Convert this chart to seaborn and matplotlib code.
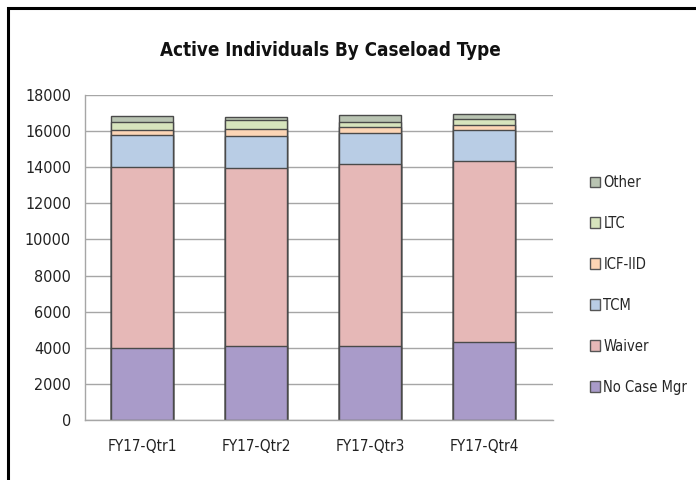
import matplotlib
matplotlib.use("Agg")
import matplotlib.pyplot as plt
import matplotlib.patches as mpatches
import numpy as np
import pandas as pd
import seaborn as sns

# ── Data ──────────────────────────────────────────────────────────────────────
QUARTERS = ["FY17-Qtr1", "FY17-Qtr2", "FY17-Qtr3", "FY17-Qtr4"]
CASELOAD_TYPES = ["No Case Mgr", "Waiver", "TCM", "ICF-IID", "LTC", "Other"]

no_case_mgr = [4000, 4080, 4120, 4330]
waiver      = [10000, 9870, 10080, 10020]
tcm         = [1780, 1790, 1700, 1700]
icf_iid     = [300, 400, 330, 280]
ltc         = [450, 460, 280, 360]
other       = [300, 190, 370, 240]

COLORS = {
    "No Case Mgr": "#A99BC9",
    "Waiver":      "#E6B8B7",
    "TCM":         "#B9CDE5",
    "ICF-IID":     "#FCD5B5",
    "LTC":         "#D7E4BD",
    "Other":       "#B9C4B2",
}

series = [no_case_mgr, waiver, tcm, icf_iid, ltc, other]
df = pd.DataFrame(series, index=CASELOAD_TYPES, columns=QUARTERS).T
cum = df.cumsum(axis=1)

# ── Plot ──────────────────────────────────────────────────────────────────────
sns.set_style("white")
plt.rcParams["font.family"] = ["DejaVu Sans"]
plt.rcParams["font.stretch"] = "condensed"

fig = plt.figure(figsize=(6.96, 4.8), dpi=100)
ax = fig.add_axes([0.122, 0.125, 0.672, 0.677])

# draw cumulative totals from the top layer down so each segment overlaps
for name in reversed(CASELOAD_TYPES):
    sns.barplot(
        x=QUARTERS, y=cum[name].values,
        color=COLORS[name], edgecolor="#4a4a4a", linewidth=1.0,
        width=0.54, saturation=1, ax=ax, zorder=2,
    )

ax.set_ylim(0, 18000)
ax.set_xlim(-0.5, 3.6)
ax.set_yticks(np.arange(0, 18001, 2000))
ax.yaxis.grid(True, color="#a6a6a6", linewidth=1.0, zorder=0)
ax.set_axisbelow(True)
ax.tick_params(axis="both", length=0, labelsize=11.5, colors="#222222", pad=10)
ax.tick_params(axis="x", labelsize=11, pad=14)
for side in ["top", "right"]:
    ax.spines[side].set_visible(False)
for side in ["left", "bottom"]:
    ax.spines[side].set_color("#a6a6a6")
    ax.spines[side].set_linewidth(1.0)

fig.text(0.475, 0.895, "Active Individuals By Caseload Type",
         ha="center", va="center", fontsize=13.5, fontweight="bold", color="#111111")

handles = [mpatches.Patch(facecolor=COLORS[n], edgecolor="#555555", label=n)
           for n in reversed(CASELOAD_TYPES)]
fig.legend(handles=handles, loc="center left", bbox_to_anchor=(0.847, 0.407),
           frameon=False, fontsize=10.5, labelspacing=1.78,
           borderpad=0, borderaxespad=0,
           handlelength=0.7, handleheight=0.7, handletextpad=0.25)

# outer chart frame
fig.patches.append(mpatches.Rectangle((0.012, -0.01), 0.995, 1.0 - 0.017 + 0.01,
                                      transform=fig.transFigure, fill=False,
                                      edgecolor="black", linewidth=2.2))

fig.savefig("out.png", dpi=100)
